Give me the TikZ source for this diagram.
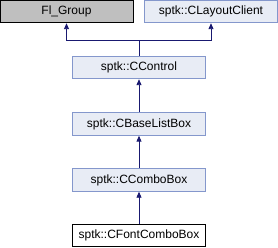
\documentclass[tikz,border=0pt]{standalone}
\usepackage{fontspec}
\setmainfont{Liberation Sans}
\usetikzlibrary{arrows.meta}
\definecolor{clsfill}{HTML}{E8ECF5}
\definecolor{clsline}{HTML}{8497CC}
\definecolor{extfill}{HTML}{BFBFBF}
\definecolor{inhline}{HTML}{191970}

\begin{document}
\begin{tikzpicture}[
    x=1pt, y=-1pt,
    font=\fontsize{12}{14}\selectfont,
    box/.style={draw=clsline, fill=clsfill, line width=0.9pt, minimum width=133pt,
      minimum height=22.5pt, inner sep=0pt, anchor=center},
    ext/.style={box, draw=black, fill=extfill},
    cur/.style={box, draw=black, fill=white},
    ar/.style={-{Triangle[length=6pt, width=5pt]}, draw=inhline, line width=0.9pt},
  ]
    \useasboundingbox (0,0) rectangle (278,248);
    % Base classes
    \node[ext] (flgroup) at (66.5,11.5)  {Fl\_Group};
    \node[box] (layout)  at (211,11.5)   {sptk::CLayoutClient};
    % Derived chain
    \node[box] (ctrl)    at (139,67.5)   {sptk::CControl};
    \node[box] (blist)   at (139,124)    {sptk::CBaseListBox};
    \node[box] (combo)   at (139,180)    {sptk::CComboBox};
    \node[cur] (font)    at (139,235.5)  {sptk::CFontComboBox};
    % Inheritance arrows (derived -> base)
    \coordinate (fork) at (139,40.5);
    \draw[inhline, line width=0.9pt] (ctrl.north) -- (fork);
    \draw[ar] (fork) -| (flgroup.south);
    \draw[ar] (fork) -| (layout.south);
    \draw[ar] (blist.north) -- (ctrl.south);
    \draw[ar] (combo.north) -- (blist.south);
    \draw[ar] (font.north)  -- (combo.south);
  \end{tikzpicture}
\end{document}
